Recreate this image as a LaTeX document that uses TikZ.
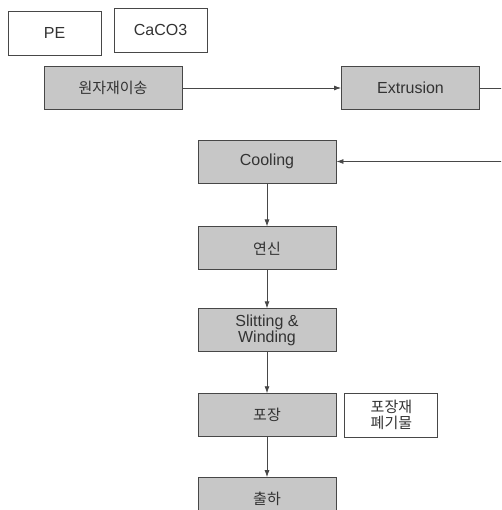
\documentclass[tikz,border=0pt]{standalone}
\usepackage{fontspec}
\setmainfont{Liberation Sans}
\newfontfamily\kr{Noto Sans CJK KR}
\usepackage{xcolor}
\usetikzlibrary{arrows.meta, positioning}
\definecolor{boxgray}{gray}{0.78}
\definecolor{linegray}{gray}{0.28}

\begin{document}
\begin{tikzpicture}[x=1pt, y=-1pt,
        box/.style={draw=linegray, line width=0.9pt, fill=boxgray, text=black!80, minimum width=138pt, minimum height=43pt, inner sep=0pt, align=center, font=\fontsize{16}{16}\selectfont},
        input/.style={draw=linegray, line width=0.9pt, fill=white, text=black!80, minimum width=93pt, minimum height=44pt, inner sep=0pt, align=center, font=\fontsize{16}{16}\selectfont},
        korean/.style={font=\kr\fontsize{15}{16}\selectfont},
        flow/.style={->, draw=linegray, line width=0.8pt},
        >={Latex[length=7pt,width=5pt]}
    ]
        \clip (0,0) rectangle (501,510);
        \fill[white] (0,0) rectangle (501,510);

        % Nodes
        \node[input] (pe) at (54.5,33) {PE};
        \node[input] (caco) at (160.5,30) {CaCO3};
        \node[box, korean] (transfer) at (113,88) {원자재이송};
        \node[box] (extrusion) at (410.5,88) {Extrusion};
        \node[box] (cooling) at (267,161.5) {Cooling};
        \node[box, korean, below=43pt of cooling] (stretching) {연신};
        \node[box, below=38pt of stretching] (slitting) {Slitting \&\\Winding};
        \node[box, korean, below=41pt of slitting] (packing) {포장};
        \node[box, korean, below=40pt of packing] (shipping) {출하};
        \node[input, korean, right=8pt of packing] (waste) {포장재\\폐기물};

        % Arrows
        \draw[flow] (transfer) -- (extrusion);
        \draw[flow] (extrusion.east) -- ++(40pt,0) |- (cooling.east);
        \draw[flow] (cooling) -- (stretching);
        \draw[flow] (stretching) -- (slitting);
        \draw[flow] (slitting) -- (packing);
        \draw[flow] (packing) -- (shipping);
    \end{tikzpicture}
\end{document}
